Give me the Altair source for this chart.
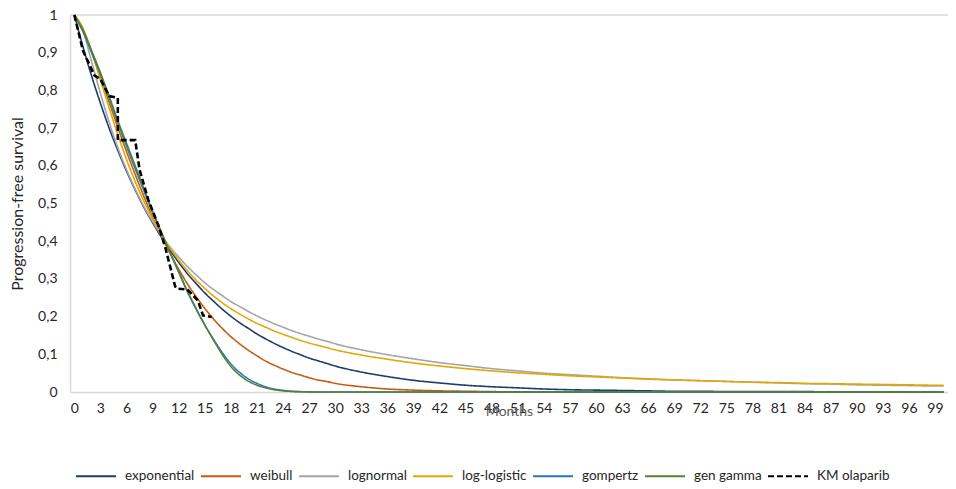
import altair as alt
import pandas as pd

# ---- data ----
months = list(range(0, 31)) + list(range(33, 100, 3)) + [100]

exponential = [1.000, 0.915, 0.837, 0.766, 0.700, 0.641, 0.586, 0.536, 0.490, 0.449,
               0.411, 0.376, 0.344, 0.314, 0.288, 0.263, 0.241, 0.220, 0.201, 0.184,
               0.169, 0.154, 0.141, 0.129, 0.118, 0.108, 0.099, 0.090, 0.083, 0.076,
               0.069,
               0.053, 0.041, 0.031, 0.024, 0.018, 0.014, 0.011, 0.008, 0.006, 0.005,
               0.004, 0.003, 0.002, 0.002, 0.001, 0.001, 0.001, 0.001, 0.0005, 0.0004,
               0.0003, 0.0002, 0.0001, 0.0001]

weibull = [1.000, 0.959, 0.900, 0.835, 0.769, 0.702, 0.638, 0.577, 0.519, 0.464,
           0.414, 0.368, 0.326, 0.287, 0.253, 0.222, 0.194, 0.169, 0.147, 0.128,
           0.111, 0.096, 0.082, 0.071, 0.061, 0.052, 0.045, 0.038, 0.032, 0.028,
           0.023,
           0.014, 0.008, 0.005, 0.003, 0.002, 0.001, 0.0005, 0.0003, 0.0002, 0.0001,
           0.0, 0.0, 0.0, 0.0, 0.0, 0.0, 0.0, 0.0, 0.0, 0.0,
           0.0, 0.0, 0.0, 0.0]

lognormal = [1.000, 0.957, 0.875, 0.792, 0.716, 0.648, 0.590, 0.538, 0.492, 0.452,
             0.416, 0.385, 0.358, 0.333, 0.311, 0.290, 0.272, 0.256, 0.240, 0.227,
             0.214, 0.202, 0.191, 0.181, 0.172, 0.163, 0.155, 0.148, 0.141, 0.135,
             0.128,
             0.112, 0.099, 0.088, 0.078, 0.070, 0.062, 0.056, 0.050, 0.046, 0.042,
             0.038, 0.035, 0.032, 0.030, 0.028, 0.026, 0.024, 0.022, 0.021, 0.019,
             0.018, 0.017, 0.016, 0.016]

loglogistic = [1.000, 0.965, 0.901, 0.828, 0.754, 0.683, 0.617, 0.558, 0.506, 0.460,
               0.418, 0.382, 0.350, 0.322, 0.297, 0.275, 0.255, 0.237, 0.221, 0.207,
               0.194, 0.182, 0.172, 0.162, 0.153, 0.145, 0.137, 0.130, 0.124, 0.118,
               0.112,
               0.098, 0.087, 0.077, 0.069, 0.062, 0.056, 0.051, 0.047, 0.043, 0.040,
               0.037, 0.034, 0.032, 0.030, 0.028, 0.026, 0.025, 0.023, 0.022, 0.021,
               0.020, 0.019, 0.018, 0.018]

gompertz = [1.000, 0.955, 0.900, 0.842, 0.780, 0.715, 0.652, 0.592, 0.534, 0.476,
            0.422, 0.370, 0.318, 0.266, 0.220, 0.178, 0.140, 0.105, 0.075, 0.052,
            0.035, 0.023, 0.014, 0.008, 0.0045, 0.002, 0.001, 0.0004, 0.0, 0.0,
            0.0,
            0.0, 0.0, 0.0, 0.0, 0.0, 0.0, 0.0, 0.0, 0.0, 0.0,
            0.0, 0.0, 0.0, 0.0, 0.0, 0.0, 0.0, 0.0, 0.0, 0.0,
            0.0, 0.0, 0.0, 0.0]

gengamma = [1.000, 0.960, 0.905, 0.847, 0.785, 0.720, 0.660, 0.600, 0.540, 0.480,
            0.425, 0.370, 0.320, 0.268, 0.222, 0.178, 0.138, 0.100, 0.068, 0.045,
            0.029, 0.018, 0.011, 0.006, 0.003, 0.0015, 0.0007, 0.0003, 0.0, 0.0,
            0.0,
            0.0, 0.0, 0.0, 0.0, 0.0, 0.0, 0.0, 0.0, 0.0, 0.0,
            0.0, 0.0, 0.0, 0.0, 0.0, 0.0, 0.0, 0.0, 0.0, 0.0,
            0.0, 0.0, 0.0, 0.0]

km_months = [0, 1.0, 2.3, 3.0, 4.0, 5.0, 5.0, 7.0, 7.5, 8.5, 9.7, 10.5, 11.6, 11.8,
             13.0, 14.2, 14.8, 15.8]
km_surv = [1.0, 0.905, 0.84, 0.83, 0.785, 0.78, 0.668, 0.668, 0.59, 0.51, 0.44, 0.38,
           0.28, 0.274, 0.272, 0.243, 0.203, 0.199]

series_names = ["exponential", "weibull", "lognormal", "log-logistic",
                "gompertz", "gen gamma", "KM olaparib"]
series_colors = ["#1F3A70", "#C55A11", "#A5A5A5", "#E0A800",
                 "#2E75B6", "#548235", "#000000"]
series_dashes = [[1, 0], [1, 0], [1, 0], [1, 0], [1, 0], [1, 0], [6, 3]]

y_ticks = [0, 0.1, 0.2, 0.3, 0.4, 0.5, 0.6, 0.7, 0.8, 0.9, 1.0]
x_ticks = list(range(0, 100, 3))

# ---- tables ----
rows = []
for name, vals in zip(series_names[:6],
                      [exponential, weibull, lognormal, loglogistic, gompertz, gengamma]):
    for i, (t, v) in enumerate(zip(months, vals)):
        rows.append({"series": name, "month": t, "surv": v, "idx": i})
model_df = pd.DataFrame(rows)
km_df = pd.DataFrame({"series": "KM olaparib", "month": km_months,
                      "surv": km_surv, "idx": list(range(len(km_months)))})
top_df = pd.DataFrame({"surv": [1.0]})

FONT = "Lato"

x_enc = alt.X("month:Q",
              scale=alt.Scale(domain=[-0.5, 100.5], nice=False, zero=False),
              axis=alt.Axis(values=x_ticks, title="Months", grid=False, ticks=False,
                            domainColor="#D9D9D9", domainWidth=1.5,
                            labelFont=FONT, labelFontSize=14, labelColor="#262626",
                            labelPadding=9, labelOverlap=False, labelFlush=False,
                            titleFont=FONT, titleFontSize=14, titleFontWeight="normal",
                            titleColor="#595959", titleY=12, titleBaseline="top"))
y_enc = alt.Y("surv:Q",
              scale=alt.Scale(domain=[0, 1], nice=False),
              axis=alt.Axis(values=y_ticks, title="Progression-free survival",
                            grid=False, ticks=False, domainColor="#D9D9D9",
                            domainWidth=1.5, labelOverlap=False, labelFlush=False,
                            labelExpr="replace(format(datum.value, '.1~f'), '.', ',')",
                            labelFont=FONT, labelFontSize=14, labelColor="#262626",
                            labelPadding=13,
                            titleFont=FONT, titleFontSize=16, titleFontWeight="normal",
                            titleColor="#262626", titlePadding=12))

legend = alt.Legend(title=None, orient="none", legendX=5, legendY=440,
                    direction="horizontal", symbolType="stroke", symbolSize=1600,
                    symbolStrokeWidth=2, labelFont=FONT, labelFontSize=13.5,
                    labelColor="#262626", labelOffset=8, columnPadding=2)

color_enc = alt.Color("series:N", scale=alt.Scale(domain=series_names, range=series_colors),
                      legend=legend)
dash_enc = alt.StrokeDash("series:N",
                          scale=alt.Scale(domain=series_names, range=series_dashes),
                          legend=legend)

top_line = alt.Chart(top_df).mark_rule(color="#D9D9D9", strokeWidth=1.5).encode(y=y_enc)

models = alt.Chart(model_df).mark_line(interpolate="monotone", strokeWidth=1.6).encode(
    x=x_enc, y=y_enc, color=color_enc, strokeDash=dash_enc, order="idx:Q")

km = alt.Chart(km_df).mark_line(strokeWidth=2.6).encode(
    x=x_enc, y=y_enc, color=color_enc, strokeDash=dash_enc, order="idx:Q")

chart = alt.layer(top_line, models, km).properties(
    width=878, height=377,
    padding={"left": 62, "top": 7, "right": 0, "bottom": 90},
    autosize=alt.AutoSizeParams(type="none"),
    background="white",
).configure_view(stroke=None)

chart.save("out.html", embed_options={"renderer": "svg", "actions": False})
